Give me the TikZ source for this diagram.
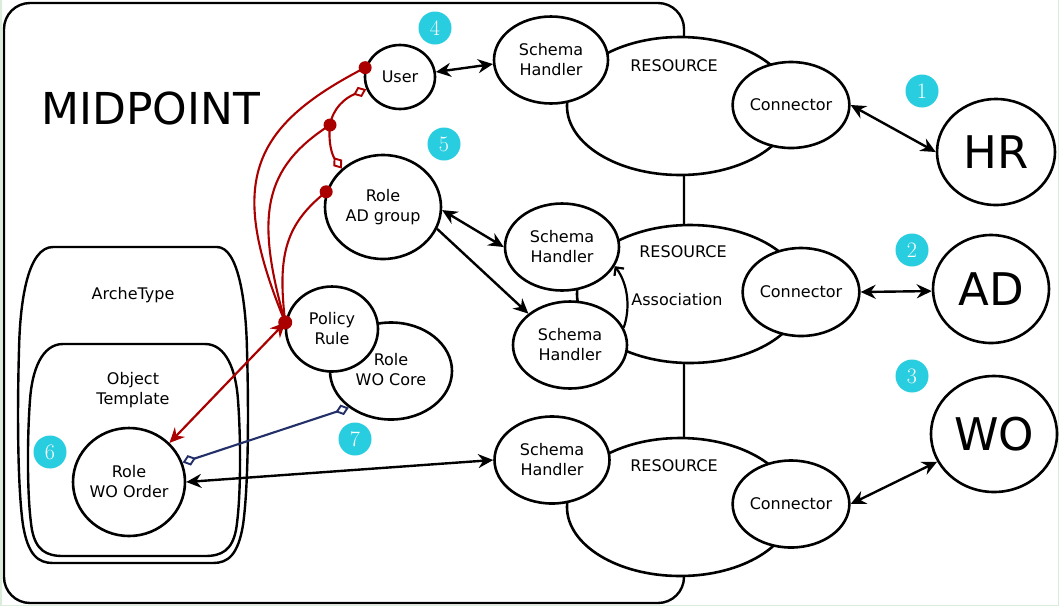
\documentclass[tikz,border=0pt]{standalone}
\usepackage{fontspec}
\setsansfont{DejaVu Sans}
\usetikzlibrary{shapes.geometric,arrows.meta}
\definecolor{cyanb}{RGB}{41,205,224}
\definecolor{redl}{RGB}{170,0,0}
\definecolor{navyl}{RGB}{35,47,105}
\definecolor{greenb}{RGB}{218,236,218}
\tikzset{dia/.tip={Diamond[fill=white,length=14pt,width=11pt,line width=1.9pt]}}
\begin{document}
\begin{tikzpicture}[x=1pt,y=-1pt,
  ell/.style={ellipse, draw, line width=2.6pt, fill=white, inner sep=0pt,
    font=\sffamily\fontsize{16}{20}\selectfont, align=center},
  big/.style={ell, font=\sffamily\fontsize{45}{45}\selectfont},
  lbl/.style={font=\sffamily\fontsize{16}{20}\selectfont, align=center, inner sep=0pt},
  num/.style={circle, fill=cyanb, text=white, minimum size=33pt, inner sep=0pt,
    font=\fontsize{22}{22}\selectfont},
  conn/.style={line width=2.4pt, {Stealth[length=15pt,width=14pt,inset=5pt]}-{Stealth[length=15pt,width=14pt,inset=5pt]}},
  conn1/.style={line width=2.4pt, -{Stealth[length=15pt,width=14pt,inset=5pt]}},
  redline/.style={draw=redl, line width=2.1pt},
  redarrow/.style={draw=redl, line width=2.2pt, {Stealth[length=15pt,width=14pt,inset=5pt]}-{Stealth[length=15pt,width=14pt,inset=5pt]}},
  outl/.style={line width=2.4pt}
]
\useasboundingbox (0,0) rectangle (1059,606);
\fill[white] (0,0) rectangle (1059,606);
\draw[greenb, line width=1.5pt] (0.75,0) -- (0.75,605.25) -- (1058.25,605.25) -- (1058.25,0);

% MIDPOINT frame
\draw[outl, rounded corners=26pt] (4,3) rectangle (684,603);
\node[font=\sffamily\fontsize{44}{44}\selectfont, inner sep=0pt] (midpoint) at (151,108) {MIDPOINT};

% ArcheType / Object Template
\draw[outl] (53,247) -- (217,247) .. controls (238,247) and (246,300) .. (247,350)
  .. controls (249,420) and (248,490) .. (243,525) .. controls (238,555) and (228,563) .. (213,563)
  -- (53,563) .. controls (38,563) and (28,555) .. (23,525)
  .. controls (18,490) and (17,420) .. (19,350) .. controls (20,300) and (28,247) .. cycle;
\draw[outl] (63,344) -- (205,344) .. controls (226,344) and (236,370) .. (238,400)
  .. controls (241,440) and (241,500) .. (236,530) .. controls (232,550) and (222,556) .. (205,556)
  -- (63,556) .. controls (46,556) and (36,550) .. (32,530)
  .. controls (27,500) and (27,440) .. (30,400) .. controls (32,370) and (42,344) .. cycle;
\node[lbl] (arche) at (133,295) {ArcheType};
\node[lbl] (objt) at (133,390) {Object\\Template};

% Resources
\node[ell, minimum width=226pt, minimum height=138pt] (res1) at (680,106) {};
\node[ell, minimum width=226pt, minimum height=138pt] (res2) at (690,294) {};
\node[ell, minimum width=226pt, minimum height=138pt] (res3) at (680,507) {};
\node[lbl] (res1t) at (674,66) {RESOURCE};
\node[lbl] (res2t) at (683,252) {RESOURCE};
\node[lbl] (asst) at (677,300) {Association};
\node[lbl] (res3t) at (674,466) {RESOURCE};

% Schema handlers
\node[ell, minimum width=114pt, minimum height=87pt] (sh1) at (551,60) {Schema\\Handler};
\node[ell, minimum width=114pt, minimum height=87pt] (sh2) at (562,247) {Schema\\Handler};
\node[ell, minimum width=114pt, minimum height=87pt] (sh3) at (570,345) {Schema\\Handler};
\node[ell, minimum width=115pt, minimum height=87pt] (sh4) at (552,460) {Schema\\Handler};

% Connectors
\node[ell, minimum width=114pt, minimum height=86pt] (c1) at (791,105) {Connector};
\node[ell, minimum width=115pt, minimum height=88pt] (c2) at (801,292) {Connector};
\node[ell, minimum width=114pt, minimum height=87pt] (c3) at (791,504) {Connector};

% External systems
\node[big, minimum width=118pt, minimum height=106pt] (hr) at (996,152) {HR};
\node[big, minimum width=116pt, minimum height=108pt] (ad) at (991,289) {AD};
\node[big, minimum width=126pt, minimum height=116pt] (wo) at (994,434) {WO};

% Midpoint objects
\node[ell, minimum width=70pt, minimum height=64pt] (user) at (400,77) {User};
\node[ell, minimum width=116pt, minimum height=104pt] (adg) at (383,207) {Role\\AD group};
\node[ell, minimum width=122pt, minimum height=97pt] (wocore) at (391,371) {};
\node[lbl] (wocoret) at (391,370) {Role\\WO Core};
\node[ell, minimum width=92pt, minimum height=85pt] (policy) at (332,329) {Policy\\Rule};
\node[ell, minimum width=112pt, minimum height=108pt] (order) at (129,482) {Role\\WO Order};

% black connectors
\draw[conn] (user.8) -- (sh1.184);
\draw[conn] (adg.-3) -- (sh2.180);
\draw[conn1] (adg.-22) -- (sh3.143);
\draw[line width=2.2pt, -{Straight Barb[length=6pt,width=12pt]}] (sh3.18) .. controls (630,310) and (629,285) .. (sh2.-20);
\draw[conn] (c1.east) -- (hr.west);
\draw[conn] (c2.east) -- (ad.182);
\draw[conn] (c3.east) -- (wo.206);
\draw[conn] (sh4.west) -- (order.east);

% red relations
\coordinate (pd) at (policy.172);
\coordinate (m) at (330,125);
\draw[redarrow] (pd) -- (order.44);
\draw[redline] (pd) .. controls (228,184) and (248,128) .. (user.165);
\draw[redline] (pd) .. controls (255,216) and (263,168) .. (m);
\draw[redline] (pd) .. controls (277,254) and (286,224) .. (adg.165);
\draw[redline, -{dia}] (m) .. controls (333,108) and (345,98) .. (user.200);
\draw[redline, -{dia}] (m) .. controls (328,142) and (332,155) .. (adg.137);
\fill[redl] (user.165) circle (6.5pt);
\fill[redl] (m) circle (6.5pt);
\fill[redl] (adg.165) circle (6.5pt);
\fill[redl] (pd) circle (7pt);

% blue relation
\draw[draw=navyl, line width=2.1pt, {dia}-{dia}] (wocore.221) -- (order.20);

% numbers
\node[num] (n1) at (922,91) {1};
\node[num] (n2) at (912,250) {2};
\node[num] (n3) at (912,376) {3};
\node[num] (n4) at (435,28) {4};
\node[num] (n5) at (444,144) {5};
\node[num] (n6) at (50,452) {6};
\node[num] (n7) at (355,439) {7};
\end{tikzpicture}
\end{document}
